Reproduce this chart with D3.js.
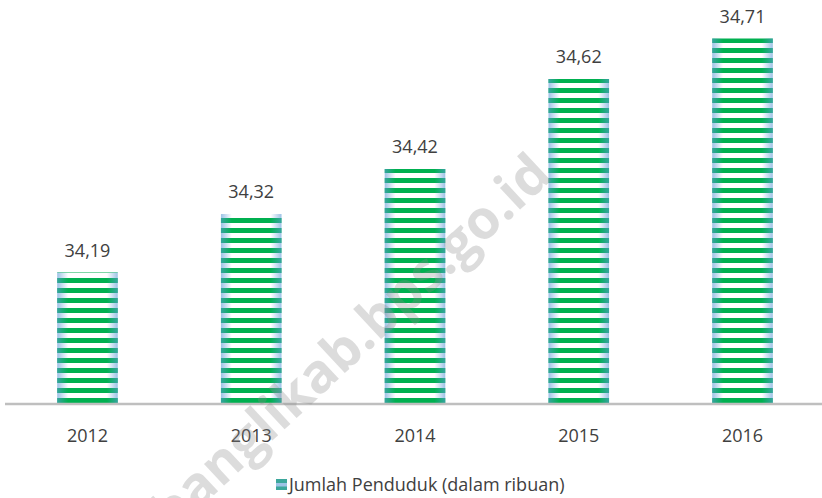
<!DOCTYPE html>
<html lang="en">
<head>
    <meta charset="UTF-8">
    <title>Jumlah Penduduk</title>
    <script src="https://d3js.org/d3.v7.min.js"></script>
    <style>
        body {
            margin: 0;
            padding: 0;
            background: #ffffff;
        }

        svg {
            display: block;
            font-family: 'Open Sans', sans-serif;
        }

        .value-text, .year-text, .legend-text {
            font-size: 18px;
            fill: #404040;
        }

        .watermark {
            font-family: 'Open Sans', sans-serif;
            font-weight: bold;
            font-size: 54px;
            fill: #8a8a8a;
            fill-opacity: 0.3;
        }
    </style>
</head>
<body>
    <svg width="822" height="498"></svg>

    <script>
        const years = ["2012", "2013", "2014", "2015", "2016"];
        const penduduk = [34.19, 34.32, 34.42, 34.62, 34.71];
        const seriesName = "Jumlah Penduduk (dalam ribuan)";

        const data = years.map((y, i) => ({ year: y, value: penduduk[i] }));

        const svg = d3.select("svg");
        const width = +svg.attr("width");
        const height = +svg.attr("height");

        const xScale = d3.scaleBand()
            .domain(years)
            .range([5.6, 824.4])
            .paddingInner(0.63)
            .paddingOuter(0.315);

        const yScale = d3.scaleLinear()
            .domain([33.9, 34.8])
            .range([403, -2]);

        const idLocale = d3.formatLocale({ decimal: ",", thousands: ".", grouping: [3], currency: ["Rp", ""] });
        const fmt = idLocale.format(".2f");

        const defs = svg.append("defs");

        // green stripes, anchored at the baseline
        const stripes = defs.append("pattern")
            .attr("id", "stripes")
            .attr("patternUnits", "userSpaceOnUse")
            .attr("x", 0)
            .attr("y", yScale(33.9))
            .attr("width", 10)
            .attr("height", 10);
        stripes.append("rect")
            .attr("x", 0).attr("y", 5)
            .attr("width", 10).attr("height", 5)
            .attr("fill", "#00b050");

        // bluish edge shading
        const edge = defs.append("linearGradient")
            .attr("id", "edge")
            .attr("x1", "0%").attr("x2", "100%")
            .attr("y1", "0%").attr("y2", "0%");
        [[0, 0.6], [0.18, 0], [0.82, 0], [1, 0.6]].forEach(s => {
            edge.append("stop")
                .attr("offset", s[0])
                .attr("stop-color", "#5b9bd5")
                .attr("stop-opacity", s[1]);
        });

        const bars = svg.selectAll(".bar")
            .data(data)
            .enter()
            .append("g")
            .attr("class", "bar");

        bars.append("rect")
            .attr("x", d => xScale(d.year))
            .attr("y", d => yScale(d.value))
            .attr("width", xScale.bandwidth())
            .attr("height", d => yScale(33.9) - yScale(d.value))
            .attr("fill", "#ffffff");

        bars.append("rect")
            .attr("x", d => xScale(d.year))
            .attr("y", d => yScale(d.value))
            .attr("width", xScale.bandwidth())
            .attr("height", d => yScale(33.9) - yScale(d.value))
            .attr("fill", "url(#stripes)");

        bars.append("rect")
            .attr("x", d => xScale(d.year))
            .attr("y", d => yScale(d.value))
            .attr("width", xScale.bandwidth())
            .attr("height", d => yScale(33.9) - yScale(d.value))
            .attr("fill", "url(#edge)");

        // value labels
        svg.selectAll(".value-text")
            .data(data)
            .enter()
            .append("text")
            .attr("class", "value-text")
            .attr("text-anchor", "middle")
            .attr("x", d => xScale(d.year) + xScale.bandwidth() / 2)
            .attr("y", d => yScale(d.value) - 16)
            .text(d => fmt(d.value));

        // axis line
        svg.append("line")
            .attr("x1", 5)
            .attr("x2", width)
            .attr("y1", yScale(33.9) + 1)
            .attr("y2", yScale(33.9) + 1)
            .attr("stroke", "#bfbfbf")
            .attr("stroke-width", 2.6);

        svg.selectAll(".year-text")
            .data(years)
            .enter()
            .append("text")
            .attr("class", "year-text")
            .attr("text-anchor", "middle")
            .attr("x", d => xScale(d) + xScale.bandwidth() / 2)
            .attr("y", 442)
            .text(d => d);

        // legend
        const legend = svg.append("g").attr("transform", "translate(276,479)");
        legend.append("rect")
            .attr("width", 11).attr("height", 11)
            .attr("fill", "#3ca79c");
        legend.append("rect")
            .attr("y", 4).attr("width", 11).attr("height", 3.5)
            .attr("fill", "#9dc3e6");
        legend.append("text")
            .attr("class", "legend-text")
            .attr("x", 13)
            .attr("y", 11.5)
            .text(seriesName);

        // watermark on top
        svg.append("text")
            .attr("class", "watermark")
            .attr("text-anchor", "end")
            .attr("transform", "translate(554,178) rotate(-43)")
            .text("banglikab.bps.go.id");
    </script>
</body>
</html>
